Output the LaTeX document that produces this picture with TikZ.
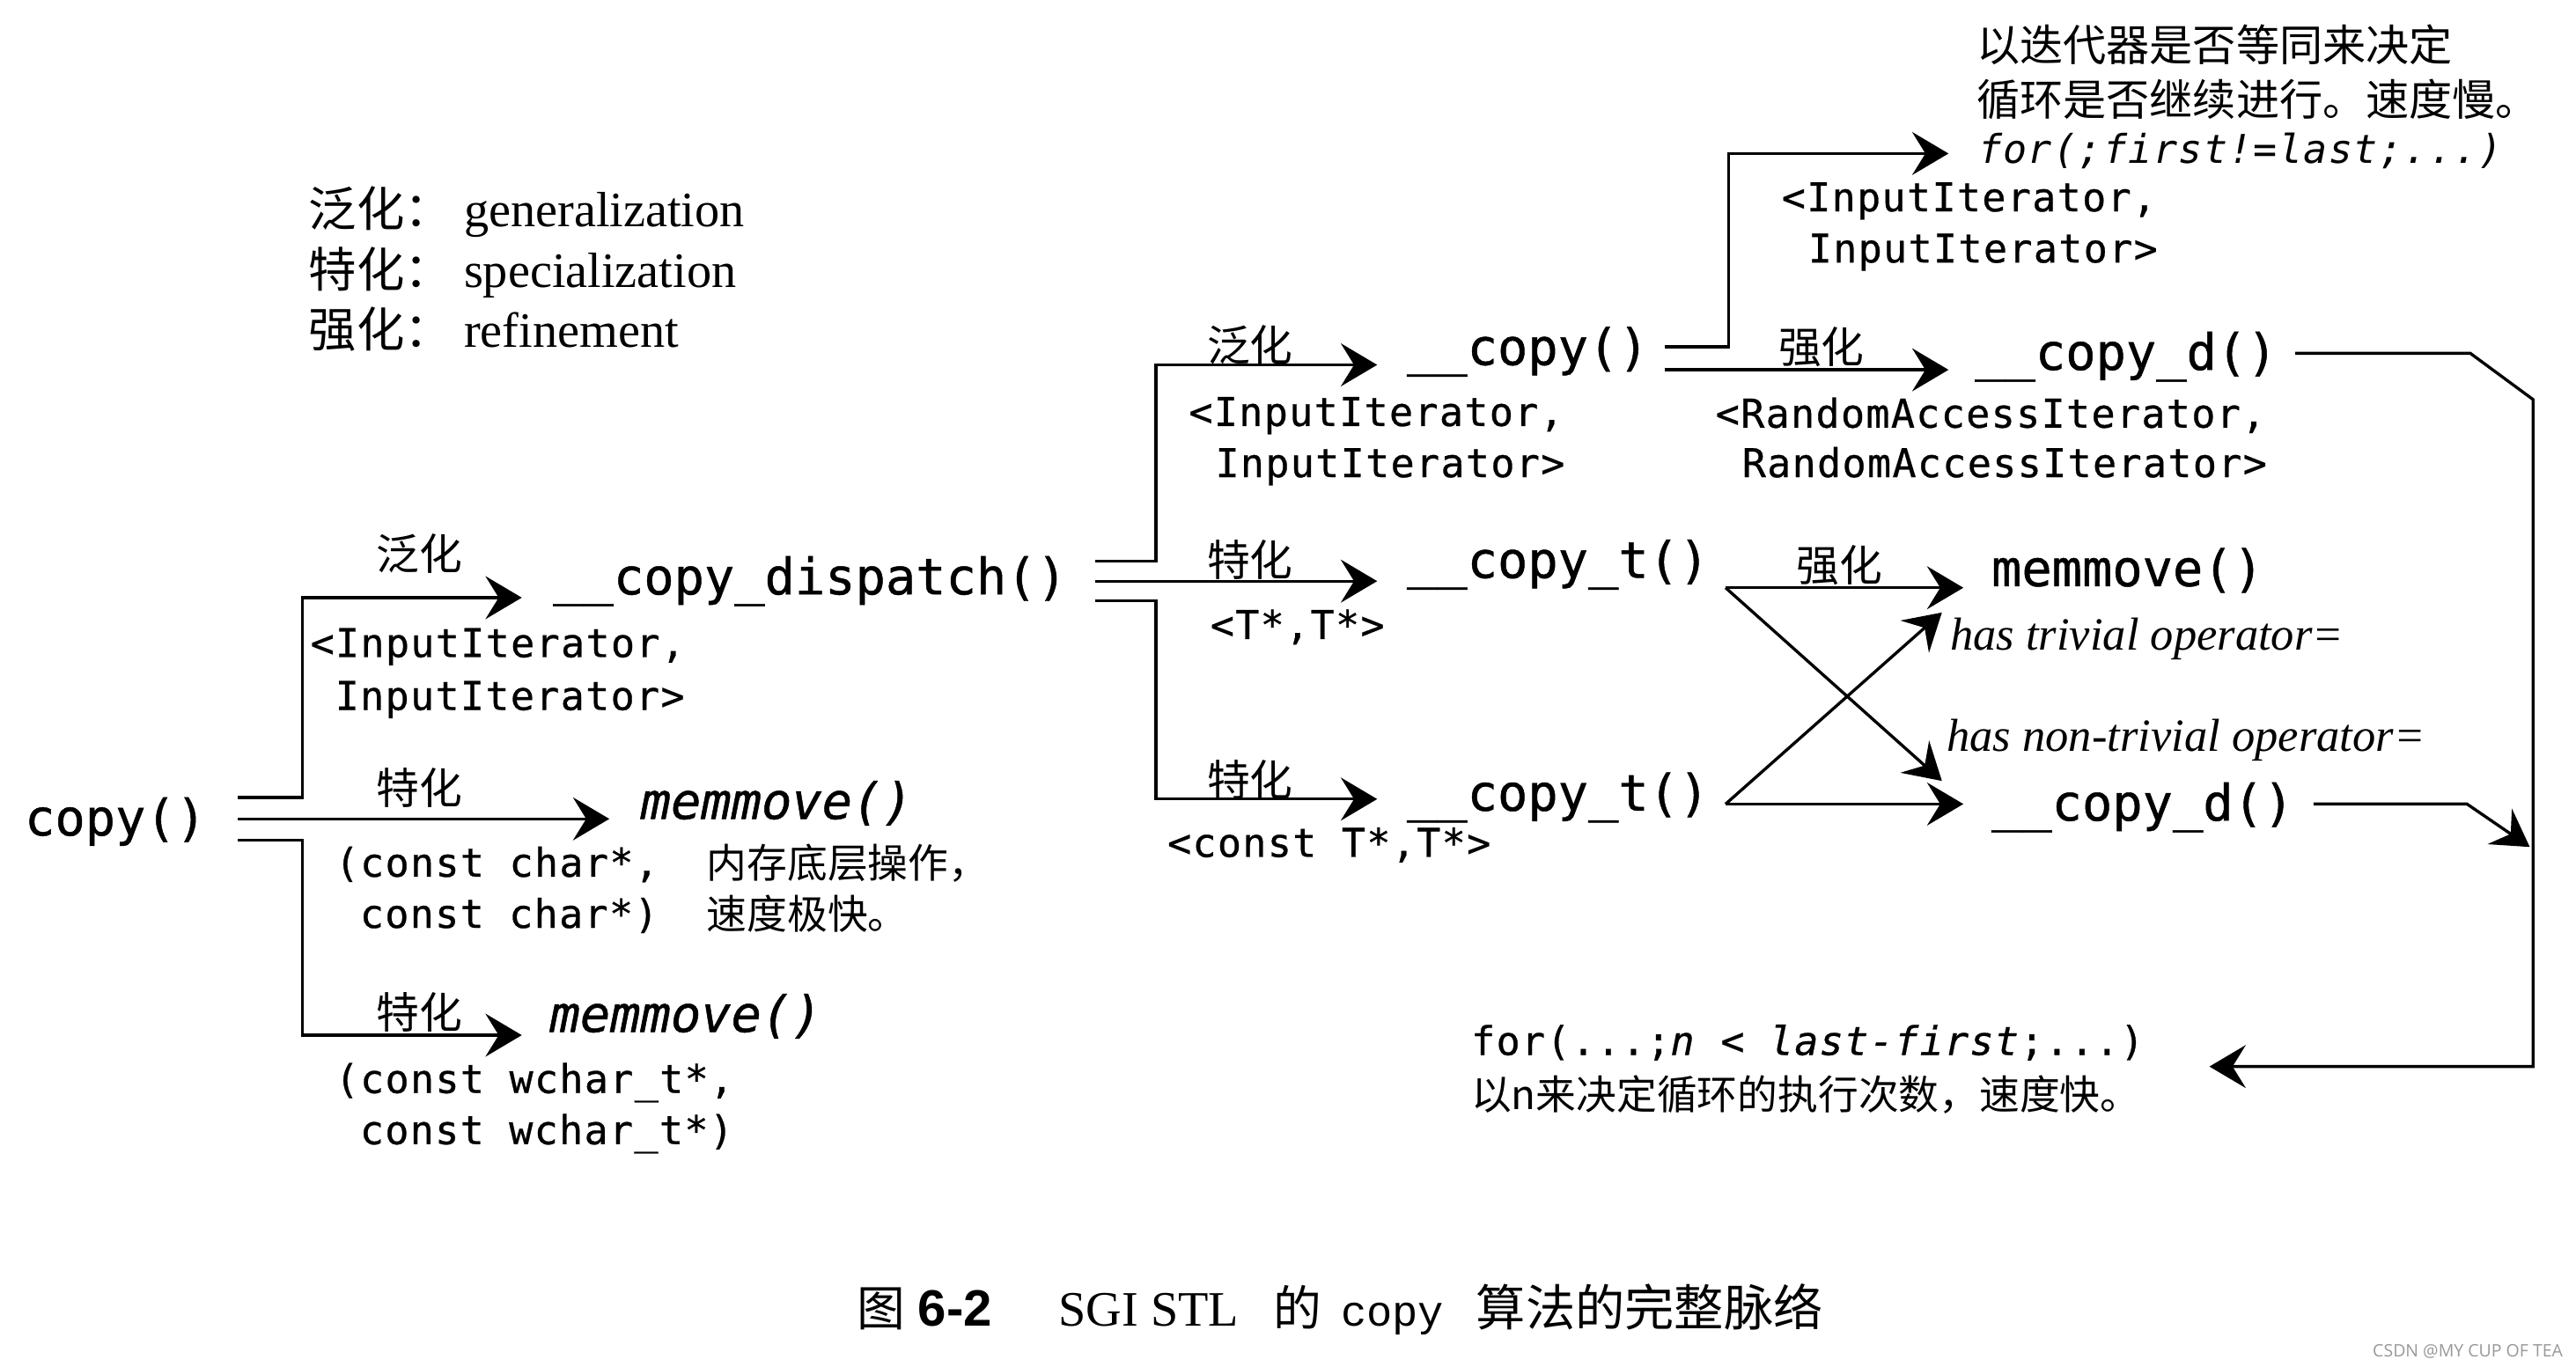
\documentclass[tikz,border=0pt]{standalone}
\usepackage{fontspec}
\setmainfont{Liberation Serif}
\newfontfamily\bmono[FakeBold=0.8]{DejaVu Sans Mono}
\newfontfamily\smono[LetterSpace=3,FakeBold=0.6]{DejaVu Sans Mono}
\newfontfamily\smonolt[LetterSpace=3]{DejaVu Sans Mono}
\newfontfamily\cjk{Noto Sans CJK SC}
\newfontfamily\cmono{Liberation Mono}
\newfontfamily\capsans{Liberation Sans}
\newfontfamily\wmfont{Open Sans}
\usetikzlibrary{arrows.meta,calc}
\begin{document}
\begin{tikzpicture}[x=0.5pt,y=-0.5pt,
  txt/.style={inner sep=0pt,outer sep=0pt,anchor=base west},
  big/.style={txt,font=\bmono\fontsize{15.2}{18}\selectfont},
  bigi/.style={txt,font=\bmono\itshape\fontsize{15.2}{18}\selectfont},
  sm/.style={txt,font=\smono\fontsize{12}{14}\selectfont},
  smi/.style={txt,font=\smonolt\itshape\fontsize{12}{14}\selectfont},
  cj/.style={txt,font=\cjk\fontsize{12.2}{14}\selectfont},
  cjt/.style={txt,font=\cjk\fontsize{13.1}{15}\selectfont},
  lab/.style={txt,font=\cjk\fontsize{13}{15}\selectfont},
  legc/.style={txt,font=\cjk\fontsize{14.5}{17}\selectfont},
  leg/.style={txt,font=\fontsize{15}{18}\selectfont},
  op/.style={txt,font=\itshape\fontsize{14}{16}\selectfont},
  ln/.style={line width=0.9pt},
  arr/.style={ln,-{Stealth[length=11pt,width=13pt,inset=4pt]}}]
\useasboundingbox[fill=white] (0,0) rectangle (1560,827.5);

% legend
\node[legc] (g1c) at (187,137.5) {泛化：};
\node[leg]  (g1)  at (281,137.5) {generalization};
\node[legc] (g2c) at (187,174) {特化：};
\node[leg]  (g2)  at (281,174) {specialization};
\node[legc] (g3c) at (187,210.5) {强化：};
\node[leg]  (g3)  at (281,210.5) {refinement};

% left column
\node[big] (copy) at (15,506) {copy()};
\node[lab] (l1) at (228,345) {泛化};
\node[big] (disp) at (335,360) {\_\_copy\_dispatch()};
\node[sm] (dispA) at (188,398) {<InputIterator,};
\node[sm] (dispB) at (203,430) {InputIterator>};
\node[lab] (l2) at (228,487) {特化};
\node[bigi] (mm1) at (388,496) {memmove()};
\node[sm] (mm1A) at (203,531) {(const char*,};
\node[sm] (mm1B) at (218,562) {const char*)};
\node[cj] (mm1C) at (428,532) {内存底层操作，};
\node[cj] (mm1D) at (428,563) {速度极快。};
\node[lab] (l3) at (228,623) {特化};
\node[bigi] (mm2) at (333,625) {memmove()};
\node[sm] (mm2A) at (203,662) {(const wchar\_t*,};
\node[sm] (mm2B) at (218,693) {const wchar\_t*)};

% middle column
\node[lab] (l4) at (731,219) {泛化};
\node[big] (cpy) at (852,221) {\_\_copy()};
\node[sm] (cpyA) at (720,258) {<InputIterator,};
\node[sm] (cpyB) at (736,289) {InputIterator>};
\node[lab] (l5) at (731,349) {特化};
\node[big] (ct1) at (852,350) {\_\_copy\_t()};
\node[sm] (ct1A) at (733,387) {<T*,T*>};
\node[lab] (l6) at (731,482) {特化};
\node[big] (ct2) at (852,491) {\_\_copy\_t()};
\node[sm] (ct2A) at (707,519) {<const T*,T*>};

% right part
\node[cjt] (n1) at (1197,37) {以迭代器是否等同来决定};
\node[cjt] (n2) at (1197,70) {循环是否继续进行。速度慢。};
\node[smi] (forA) at (1198,99) {for(;first!=last;...)};
\node[sm] (iiA) at (1079,128) {<InputIterator,};
\node[sm] (iiB) at (1095,159) {InputIterator>};
\node[lab] (l7) at (1077,220) {强化};
\node[big] (cd1) at (1196,224) {\_\_copy\_d()};
\node[sm] (raA) at (1039,259) {<RandomAccessIterator,};
\node[sm] (raB) at (1055,289) {RandomAccessIterator>};
\node[lab] (l8) at (1088,352) {强化};
\node[big] (mm3) at (1206,355) {memmove()};
\node[op] (op1) at (1181,394) {has trivial operator=};
\node[op] (op2) at (1179,455) {has non-trivial operator=};
\node[big] (cd2) at (1206,497) {\_\_copy\_d()};
\node[sm] (forB) at (891,639) {for(...;\textit{n} < \textit{last-first};...)};
\node[cj] (n3) at (891,672) {以n来决定循环的执行次数，速度快。};

% caption
\node[txt,font=\cjk\fontsize{14.6}{16}\selectfont] (cap1) at (519,803) {图};
\node[txt,font=\capsans\bfseries\fontsize{15.5}{17}\selectfont] (cap2) at (556,803) {6-2};
\node[txt,font=\fontsize{15}{17}\selectfont] (cap3) at (641,803) {SGI STL};
\node[txt,font=\cjk\fontsize{14.6}{16}\selectfont] (cap4) at (771,803) {的};
\node[txt,font=\cmono\fontsize{13}{15}\selectfont] (cap5) at (812,803) {copy};
\node[txt,font=\cjk\fontsize{15}{16}\selectfont] (cap6) at (894,803) {算法的完整脉络};
\node[txt,anchor=base east,font=\wmfont\fontsize{5.2}{6}\selectfont,text=black!40] (wm) at (1552,822) {CSDN @MY CUP OF TEA};

% connectors: copy()
\coordinate (s1) at (144,483); \coordinate (j1) at (183,483); \coordinate (t1) at (316,362);
\coordinate (s2) at (144,496); \coordinate (t2) at (369,496);
\coordinate (s3) at (144,509); \coordinate (j3) at (183,509); \coordinate (t3) at (316,627);
\draw[arr] (s1) -- (j1) |- (t1);
\draw[arr] (s2) -- (t2);
\draw[arr] (s3) -- (j3) |- (t3);

% connectors: __copy_dispatch()
\coordinate (d1) at (663,340); \coordinate (dj1) at (700,340); \coordinate (dt1) at (834,221);
\coordinate (d2) at (663,352); \coordinate (dt2) at (834,352);
\coordinate (d3) at (663,364); \coordinate (dj3) at (700,364); \coordinate (dt3) at (834,484);
\draw[arr] (d1) -- (dj1) |- (dt1);
\draw[arr] (d2) -- (dt2);
\draw[arr] (d3) -- (dj3) |- (dt3);

% connectors: __copy()
\coordinate (c1) at (1008,210); \coordinate (cj1) at (1047,210); \coordinate (ct1) at (1180,93);
\coordinate (c2) at (1008,224); \coordinate (ct2) at (1180,224);
\draw[arr] (c1) -- (cj1) |- (ct1);
\draw[arr] (c2) -- (ct2);

% connectors: __copy_t()
\coordinate (u1) at (1045,356); \coordinate (u1t) at (1189,356); \coordinate (u1d) at (1176,473);
\coordinate (u2) at (1045,487); \coordinate (u2t) at (1189,487); \coordinate (u2u) at (1176,371);
\draw[arr] (u1) -- (u1t);
\draw[arr] (u1) -- (u1d);
\draw[arr] (u2) -- (u2t);
\draw[arr] (u2) -- (u2u);

% connectors: __copy_d()
\coordinate (r1) at (1390,214); \coordinate (r2) at (1496,214); \coordinate (r3) at (1534,242);
\coordinate (r4) at (1534,646); \coordinate (r5) at (1338,646);
\draw[arr] (r1) -- (r2) -- (r3) -- (r4) -- (r5);
\coordinate (q1) at (1401,487); \coordinate (q2) at (1494,487); \coordinate (q3) at (1532,513);
\draw[arr] (q1) -- (q2) -- (q3);
\end{tikzpicture}
\end{document}
